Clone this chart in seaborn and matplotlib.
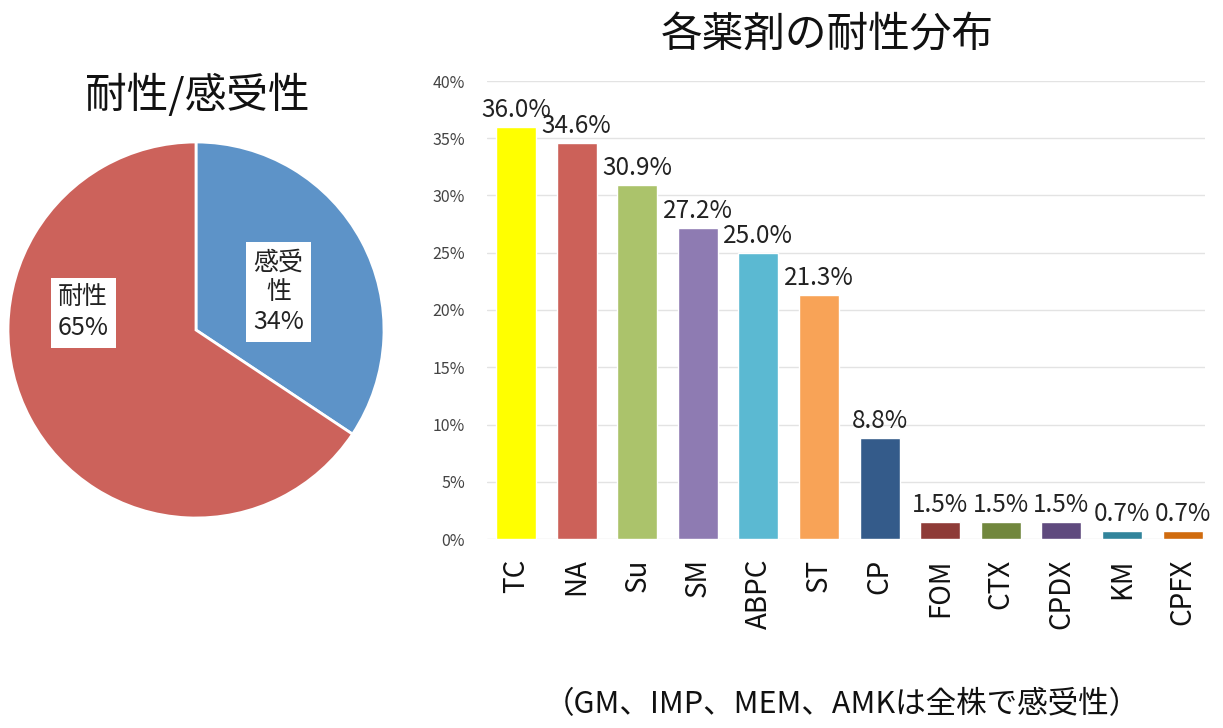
import numpy as np
import pandas as pd
import matplotlib
matplotlib.use('Agg')
import matplotlib.pyplot as plt
import seaborn as sns

# pie data
pie_labels = ['感受\n性', '耐性']
pie_values = [34, 65]
pie_colors = ['#5D93C8', '#CC625B']

# bar data
drugs = ['TC', 'NA', 'Su', 'SM', 'ABPC', 'ST', 'CP', 'FOM', 'CTX', 'CPDX', 'KM', 'CPFX']
rates = [36.0, 34.6, 30.9, 27.2, 25.0, 21.3, 8.8, 1.5, 1.5, 1.5, 0.7, 0.7]
bar_colors = ['#FFFF00', '#CC6159', '#ABC36B', '#8E7BB2', '#5BB9D2', '#F8A357',
              '#345B8A', '#8E3B37', '#71873D', '#5F4A7E', '#31849B', '#D06B0E']
y_ticks = [0, 5, 10, 15, 20, 25, 30, 35, 40]

sns.set_style('white')
plt.rcParams['font.family'] = ['Noto Sans CJK JP', 'DejaVu Sans']

fig = plt.figure(figsize=(12.23, 7.28), dpi=100)

# ---- pie ----
ax1 = fig.add_axes([8 / 1223, 1 - 518 / 728, 376 / 1223, 376 / 728])
wedges, _ = ax1.pie(pie_values, colors=pie_colors, startangle=90, counterclock=False,
                    wedgeprops=dict(edgecolor='white', linewidth=2))
ax1.set_xlim(-1, 1)
ax1.set_ylim(-1, 1)
ax1.set_aspect('equal')
pie_pos = [(0.44, 0.2), (-0.6, 0.09)]
for lab, val, (px, py) in zip(pie_labels, pie_values, pie_pos):
    ax1.text(px, py, f'{lab}\n{val}%', ha='center', va='center', fontsize=18,
             color='#222222', linespacing=1.2,
             bbox=dict(facecolor='white', edgecolor='none', pad=5))
fig.text(197 / 1223, 1 - 95 / 728, '耐性/感受性', ha='center', va='center',
         fontsize=30, color='#111111')

# ---- bars ----
ax2 = fig.add_axes([487 / 1223, 1 - 539 / 728, 718 / 1223, 458 / 728])
df = pd.DataFrame({'drug': drugs, 'rate': rates})
sns.barplot(data=df, x='drug', y='rate', hue='drug', palette=bar_colors,
            legend=False, width=0.66, saturation=1, ax=ax2, zorder=3)
for i, v in enumerate(rates):
    ax2.text(i, v + 0.35, f'{v:.1f}%', ha='center', va='bottom', fontsize=17.5,
             color='#222222', zorder=4)
ax2.set_ylim(0, 40)
ax2.set_xlim(-0.48, 11.37)
ax2.set_yticks(y_ticks)
ax2.set_yticklabels([f'{t}%' for t in y_ticks], fontsize=11.5, color='#444444')
ax2.yaxis.grid(True, color='#E3E3E3', linewidth=1.0, zorder=0)
ax2.set_axisbelow(True)
ax2.tick_params(axis='x', labelrotation=90, labelsize=20, length=0, pad=14)
ax2.tick_params(axis='y', length=0, pad=16)
for lbl in ax2.get_xticklabels():
    lbl.set_color('#111111')
for s in ax2.spines.values():
    s.set_visible(False)
ax2.set_xlabel('')
ax2.set_ylabel('')
fig.text(827 / 1223, 1 - 35 / 728, '各薬剤の耐性分布', ha='center', va='center',
         fontsize=30, color='#111111')
fig.text(842 / 1223, 1 - 705 / 728, '（GM、IMP、MEM、AMKは全株で感受性）',
         ha='center', va='center', fontsize=22, color='#111111')

fig.savefig('out.png', dpi=100)
